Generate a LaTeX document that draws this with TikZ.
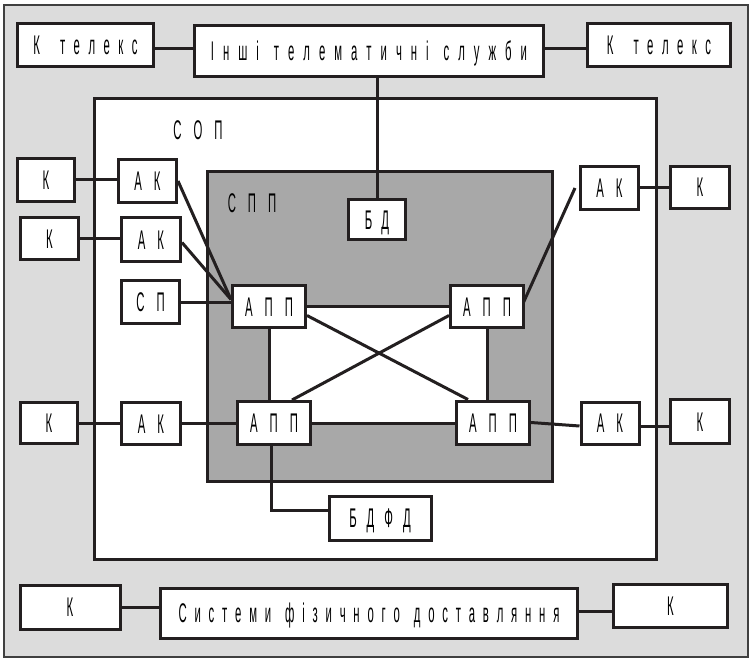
\documentclass[tikz,border=0pt]{standalone}
\usepackage{fontspec}
\usetikzlibrary{calc}
\newfontfamily\lf[FakeStretch=0.42]{Liberation Sans}
\newdimen\lsamt
\def\spc#1{#1\spcrest}
\def\spcrest#1{\ifx\relax#1\else\kern\lsamt #1\expandafter\spcrest\fi}
\newcommand\capsl[2][12pt]{{\lf\fontsize{27}{27}\selectfont\lsamt=#1\relax\spc#2\relax}}
\newcommand\lowl[2][8.5pt]{{\lf\fontsize{27}{27}\selectfont\lsamt=#1\relax\spc#2\relax}}
\definecolor{ink}{HTML}{231F20}
\definecolor{frame}{HTML}{DCDCDC}
\definecolor{spp}{HTML}{A8A8A8}
\pgfdeclarelayer{bgzero}
\pgfdeclarelayer{bgone}
\pgfsetlayers{bgzero,bgone,main}
\tikzset{
  box/.style={draw=ink, fill=white, line width=3pt, inner sep=0pt,
    text height=19pt, text depth=0pt, minimum width=#1},
  box/.default=60pt,
  lab/.style={inner sep=0pt, text height=19pt, text depth=0pt},
  conn/.style={draw=ink, line width=3pt},
}
\begin{document}
\begin{tikzpicture}[x=1pt,y=-1pt]
\useasboundingbox (0,0) rectangle (755,663);
% top row
\node[box=136, minimum height=43] (ktl) at (85.5,45) {\lowl{К}\hspace{20pt}\lowl{телекс}};
\node[box=349, minimum height=51] (its) at (369,51) {\lowl[9pt]{Інші}\hspace{15pt}\lowl[9pt]{телематичні}\hspace{15pt}\lowl[9pt]{служби}\hspace{26pt}};
\node[box=143, minimum height=43] (ktr) at (659,45) {\lowl{К}\hspace{20pt}\lowl{телекс}};
% inner labels
\node[lab] (sop) at (198,130) {\capsl{СОП}};
\node[lab] (sppl) at (252,203) {\capsl{СПП}};
\node[box=57, minimum height=40] (bd) at (377,220) {\capsl[9pt]{БД}};
% left column
\node[box=57, minimum height=43] (k1) at (46,180) {\capsl{К}};
\node[box=58, minimum height=43] (ak1) at (147.5,181) {\capsl{АК}};
\node[box=58, minimum height=42] (k2) at (49.5,238.5) {\capsl{К}};
\node[box=59, minimum height=43] (ak2) at (151,239.5) {\capsl{АК}};
\node[box=58, minimum height=43] (sp) at (150.5,302) {\capsl{СП}};
% APP nodes
\node[box=73, minimum height=42] (app1) at (269,306.5) {\capsl{АПП}};
\node[box=73, minimum height=42] (app2) at (487,306.5) {\capsl{АПП}};
\node[box=73, minimum height=43] (app3) at (274,423) {\capsl{АПП}};
\node[box=73, minimum height=43] (app4) at (493,422.5) {\capsl{АПП}};
% right side
\node[box=58, minimum height=43] (aktr) at (609.5,188) {\capsl{АК}};
\node[box=59, minimum height=42] (kr1) at (700,187.5) {\capsl{К}};
% bottom left/right row
\node[box=57, minimum height=41] (kbl) at (49,423) {\capsl{К}};
\node[box=59, minimum height=42] (akbl) at (151,423.5) {\capsl{АК}};
\node[box=58, minimum height=42] (akbr) at (610,423) {\capsl{АК}};
\node[box=59, minimum height=44] (kbr) at (700,421.5) {\capsl{К}};
% database
\node[box=102, minimum height=44] (bdfd) at (380,518) {\capsl[10pt]{БДФД}};
% bottom row
\node[box=100, minimum height=44] (kb1) at (70,607) {\capsl{К}};
\node[box=417, minimum height=50] (sfd) at (369,613) {\lowl[7.8pt]{Системи}\hspace{14pt}\lowl[7.8pt]{фізичного}\hspace{14pt}\lowl[7.8pt]{доставляння}};
\node[box=114, minimum height=43] (kb2) at (670.5,605.5) {\capsl{К}};

\begin{pgfonlayer}{bgzero}
  \draw[draw=black!75, line width=2pt, fill=frame] (4,5) rectangle (748,657);
  \draw[draw=ink, line width=3pt, fill=white] (94,99) rectangle (656,559);
  \draw[draw=ink, line width=3pt, fill=spp] (207,172) rectangle (552,481);
\end{pgfonlayer}
\begin{pgfonlayer}{bgone}
  \fill[white] (app1.center) rectangle (app2.center |- app3.center);
  % top row
  \draw[conn] (ktl.east |- 0,49) -- (its.west |- 0,49);
  \draw[conn] (its.east |- 0,49) -- (ktr.west |- 0,49);
  \draw[conn] (bd.north |- its.south) -- (bd.north);
  % left
  \draw[conn] (k1.east) -- (k1.east -| ak1.west);
  \draw[conn] (k2.east) -- (k2.east -| ak2.west);
  \coordinate (jn) at ($(app1.west)+(0,-7)$);
  \draw[conn] (ak1.east) -- (jn);
  \draw[conn] ($(ak2.east)+(0,3)$) -- (jn);
  \draw[conn] (sp.east) -- (sp.east -| app1.west);
  % APP mesh
  \draw[conn] (app1.east) -- (app2.west);
  \draw[conn] (app3.east) -- (app3.east -| app4.west);
  \draw[conn] (app1.south) -- (app1.south |- app3.north);
  \draw[conn] (app2.south) -- (app2.south |- app4.north);
  \draw[conn] ($(app1.east)+(0,9)$) -- ($(app4.north west)+(13,0)$);
  \draw[conn] ($(app2.west)+(0,9)$) -- ($(app3.north west)+(56,0)$);
  % right
  \draw[conn] ($(app2.east)+(-2,-3)$) -- ($(aktr.west)+(-4,0)$);
  \draw[conn] (aktr.east) -- (aktr.east -| kr1.west);
  \draw[conn] (app4.east) -- ($(akbr.west)+(0,3)$);
  \draw[conn] ($(akbr.east)+(0,3)$) -- ($(akbr.east -| kbr.west)+(0,3)$);
  % bottom left
  \draw[conn] (kbl.east) -- (kbl.east -| akbl.west);
  \draw[conn] (akbl.east) -- (akbl.east -| app3.west);
  % BDFD
  \draw[conn] ($(app3.south)+(-3,0)$) |- ($(bdfd.west)+(0,-8)$);
  % bottom row
  \draw[conn] (kb1.east) -- (kb1.east -| sfd.west);
  \draw[conn] ($(sfd.east)+(0,-2)$) -- ($(sfd.east -| kb2.west)+(0,-2)$);
\end{pgfonlayer}
\end{tikzpicture}
\end{document}
